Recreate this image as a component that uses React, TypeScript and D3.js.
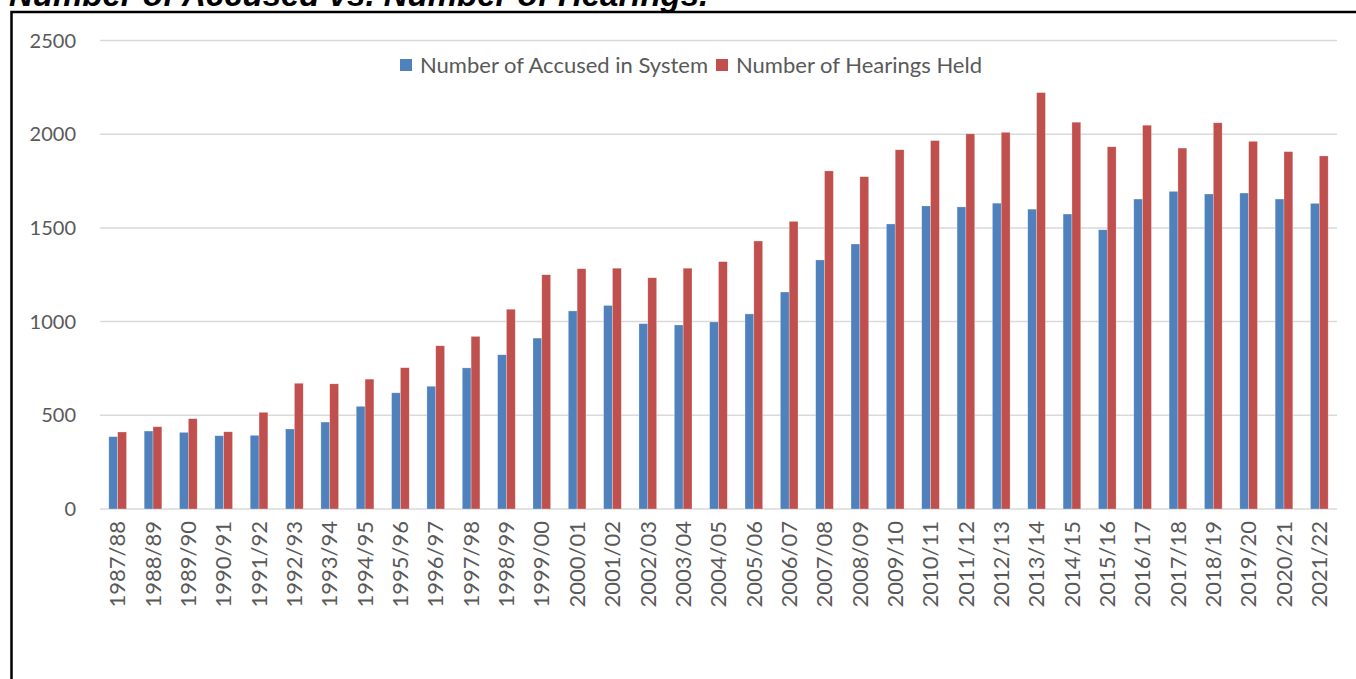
import * as d3 from "d3";
import { useEffect, useRef } from "react";

const years = [
  "1987/88", "1988/89", "1989/90", "1990/91", "1991/92", "1992/93", "1993/94",
  "1994/95", "1995/96", "1996/97", "1997/98", "1998/99", "1999/00", "2000/01",
  "2001/02", "2002/03", "2003/04", "2004/05", "2005/06", "2006/07", "2007/08",
  "2008/09", "2009/10", "2010/11", "2011/12", "2012/13", "2013/14", "2014/15",
  "2015/16", "2016/17", "2017/18", "2018/19", "2019/20", "2020/21", "2021/22",
];

const accused = [
  386, 416, 409, 391, 393, 427, 464, 548, 620, 655, 753, 823, 912, 1057,
  1086, 989, 982, 998, 1041, 1158, 1329, 1414, 1521, 1617, 1612, 1632, 1600,
  1574, 1490, 1654, 1695, 1681, 1686, 1654, 1631,
];

const hearings = [
  411, 439, 482, 412, 516, 671, 668, 693, 754, 871, 921, 1066, 1250, 1282,
  1285, 1234, 1285, 1320, 1430, 1535, 1804, 1773, 1917, 1966, 2002, 2010, 2222,
  2064, 1933, 2048, 1926, 2061, 1962, 1907, 1884,
];

const seriesNames = ["Number of Accused in System", "Number of Hearings Held"];
const seriesColors = ["#4f81bd", "#c0504d"];
const yTicks = [0, 500, 1000, 1500, 2000, 2500];

const W = 1356;
const H = 679;
const FONT = "Lato, 'Open Sans', sans-serif";

export default function App() {
  const ref = useRef<SVGSVGElement | null>(null);

  useEffect(() => {
    const el = ref.current;
    if (!el) return;
    const svg = d3.select(el);
    svg.selectAll("*").remove();

    const left = 100;
    const right = 1337;
    const top = 40.5;
    const bottom = 509;

    const x = d3.scaleBand<string>().domain(years).range([left, right]).paddingInner(0.5).paddingOuter(0.25);
    const xs = d3.scaleBand<number>().domain([0, 1]).range([0, x.bandwidth()]);
    const y = d3.scaleLinear().domain([0, 2500]).range([bottom, top]);

    // title, clipped at the top of the page
    svg
      .append("text")
      .attr("x", 9)
      .attr("y", 5.5)
      .attr("font-family", "'Liberation Sans', Arial, sans-serif")
      .attr("font-weight", 700)
      .attr("font-style", "italic")
      .attr("font-size", 33)
      .attr("fill", "#000")
      .text("Number of Accused vs. Number of Hearings.");

    // frame
    svg
      .append("path")
      .attr("d", `M11.5,${H + 5}V12H${W + 5}`)
      .attr("fill", "none")
      .attr("stroke", "#000")
      .attr("stroke-width", 2.5);

    // gridlines
    const grid = svg.append("g");
    grid
      .selectAll("line")
      .data(yTicks)
      .join("line")
      .attr("x1", left)
      .attr("x2", right)
      .attr("y1", (d) => y(d))
      .attr("y2", (d) => y(d))
      .attr("stroke", "#d9d9d9")
      .attr("stroke-width", 1.5);

    grid
      .selectAll("text")
      .data(yTicks)
      .join("text")
      .attr("x", 76)
      .attr("y", (d) => y(d))
      .attr("dy", "0.35em")
      .attr("text-anchor", "end")
      .attr("font-family", FONT)
      .attr("font-size", 20)
      .attr("fill", "#595959")
      .text((d) => String(d));

    // bars
    const rows = years.map((yr, i) => ({ yr, vals: [accused[i], hearings[i]] }));
    const groups = svg
      .append("g")
      .selectAll("g")
      .data(rows)
      .join("g")
      .attr("transform", (d) => `translate(${x(d.yr)},0)`);

    groups
      .selectAll("rect")
      .data((d) => d.vals.map((v, k) => ({ v, k })))
      .join("rect")
      .attr("x", (d) => xs(d.k)!)
      .attr("width", xs.bandwidth())
      .attr("y", (d) => y(d.v))
      .attr("height", (d) => bottom - y(d.v))
      .attr("fill", (d) => seriesColors[d.k])
      .attr("stroke", "rgba(255,255,255,0.45)")
      .attr("stroke-width", 0.6);

    // x labels
    svg
      .append("g")
      .selectAll("text")
      .data(years)
      .join("text")
      .attr("transform", (d) => `translate(${x(d)! + x.bandwidth() / 2},521) rotate(-90)`)
      .attr("dy", "0.35em")
      .attr("text-anchor", "end")
      .attr("font-family", FONT)
      .attr("font-size", 22)
      .attr("fill", "#595959")
      .text((d) => d);

    // legend
    const legend = svg.append("g");
    const lx = [400, 716];
    seriesNames.forEach((name, k) => {
      legend
        .append("rect")
        .attr("x", lx[k])
        .attr("y", 59)
        .attr("width", 12)
        .attr("height", 12)
        .attr("fill", seriesColors[k]);
      legend
        .append("text")
        .attr("x", lx[k] + 20)
        .attr("y", 65)
        .attr("dy", "0.35em")
        .attr("font-family", FONT)
        .attr("font-size", 22)
        .attr("fill", "#595959")
        .text(name);
    });
  }, []);

  return (
    <svg
      ref={ref}
      width={W}
      height={H}
      style={{ position: "absolute", left: 0, top: 0, background: "#fff" }}
    />
  );
}
